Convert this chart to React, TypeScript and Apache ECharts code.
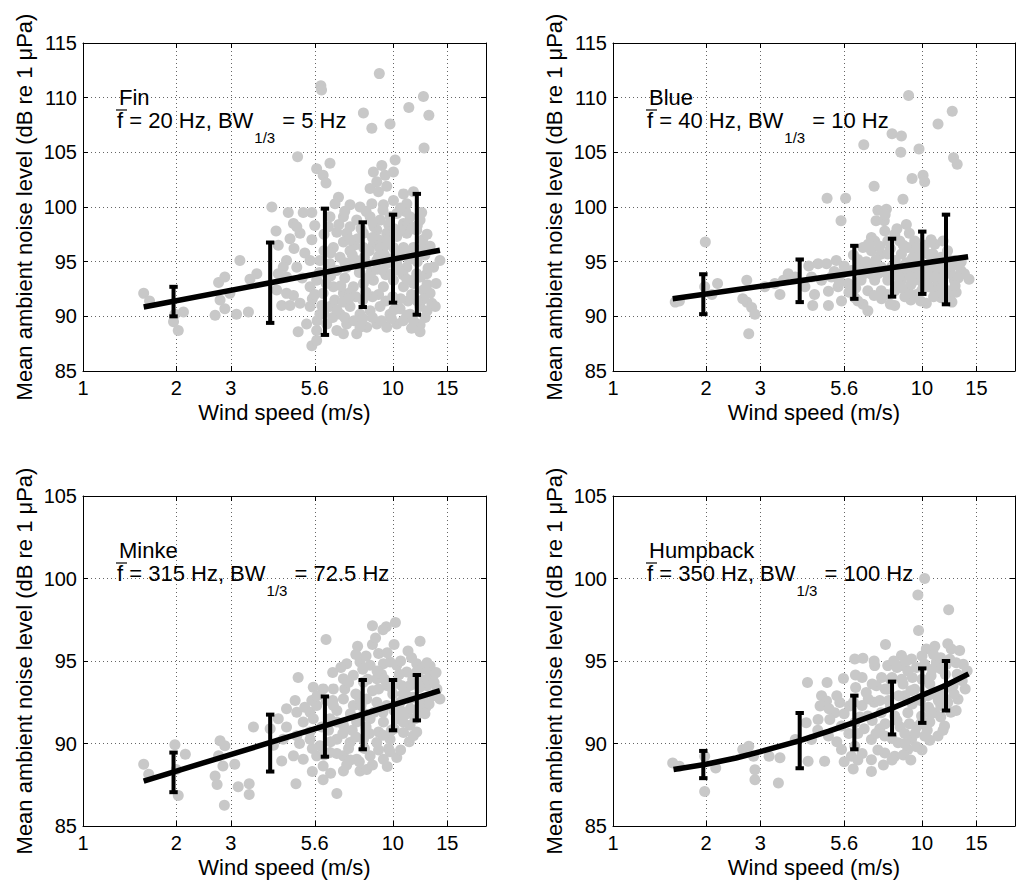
import React, { useEffect, useRef } from "react";
import * as echarts from "echarts";

const FONT = '"Liberation Sans", Arial, Helvetica, sans-serif';

// x tick positions (m/s) on the log axis
const xTicks = [1, 2, 3, 5.6, 10, 15];
// wind speed bins used for the error bars
const binSpeeds = [1.96, 4.02, 6.04, 8.0, 10.02, 11.96];

const panelNames = ["Fin", "Blue", "Minke", "Humpback"];
const freqTexts = ["f = 20 Hz, BW", "f = 40 Hz, BW", "f = 315 Hz, BW", "f = 350 Hz, BW"];
const bwTexts = [" = 5 Hz", " = 10 Hz", " = 72.5 Hz", " = 100 Hz"];
const yMins = [85, 85, 85, 85];
const yMaxs = [115, 115, 105, 105];

const finPoints = [
  [9.05, 112.2], [5.86, 111.1], [5.89, 110.7], [12.56, 110.1], [11.27, 109.1], [13.08, 108.4], [8.04, 108.6], [9.8, 107.6], [8.56, 107.2], [12.62, 105.4],
  [4.93, 104.6], [6.27, 104.0], [5.68, 103.5], [5.96, 102.9], [6.09, 102.2], [10.18, 104.3], [9.22, 103.8], [8.66, 103.2], [10.05, 103.2], [9.45, 102.9],
  [8.88, 102.3], [9.56, 101.9], [8.45, 101.7], [8.99, 101.4], [6.68, 100.9], [6.51, 100.3], [7.28, 100.2], [7.84, 100.0], [8.56, 100.3], [9.33, 100.2],
  [10.05, 100.6], [10.83, 101.2], [11.66, 101.4], [11.1, 100.3], [4.07, 100.0], [4.6, 99.5], [5.14, 99.5], [5.48, 99.5], [4.78, 98.5], [5.02, 97.6],
  [5.48, 97.0], [4.66, 97.1], [4.9, 98.2], [6.27, 99.1], [6.93, 99.1], [7.28, 98.2], [7.65, 98.8], [8.45, 99.1], [9.1, 98.8], [9.8, 99.1],
  [10.3, 99.4], [10.83, 98.5], [11.37, 99.1], [12.25, 98.8], [6.6, 97.7], [7.1, 97.6], [8.04, 97.6], [8.88, 97.9], [9.56, 97.6], [10.3, 97.3],
  [11.1, 97.6], [11.95, 97.9], [6.43, 96.3], [6.93, 96.8], [6.76, 95.4], [7.28, 96.0], [8.04, 96.3], [8.66, 96.6], [9.33, 96.3], [10.05, 96.3],
  [10.83, 96.3], [11.66, 96.3], [12.56, 96.3], [4.27, 96.5], [4.54, 95.1], [4.43, 94.5], [4.27, 93.9], [4.54, 93.6], [4.9, 94.5], [3.21, 95.1],
  [5.41, 95.1], [5.82, 95.1], [6.27, 94.8], [14.2, 95.1], [13.54, 94.5], [12.88, 93.9], [11.95, 93.9], [11.1, 94.5], [10.3, 94.8], [9.56, 94.8],
  [8.88, 95.1], [8.24, 94.8], [7.65, 95.1], [7.1, 94.5], [6.6, 94.2], [2.74, 93.1], [2.87, 93.6], [3.46, 93.4], [3.64, 93.9], [4.22, 92.4],
  [4.54, 92.1], [4.78, 91.9], [4.38, 91.0], [4.66, 91.0], [5.02, 91.2], [5.41, 92.7], [5.68, 93.3], [5.96, 92.1], [6.43, 92.7], [6.93, 92.1],
  [7.46, 92.7], [8.04, 93.0], [8.66, 93.3], [9.33, 92.7], [10.05, 93.3], [10.83, 92.7], [11.66, 93.0], [12.56, 92.4], [13.2, 92.1], [13.37, 91.2],
  [13.72, 90.9], [2.77, 91.5], [2.67, 90.1], [2.87, 90.7], [3.13, 90.2], [3.42, 90.4], [2.98, 92.1], [1.57, 92.1], [1.64, 91.4], [1.96, 89.5],
  [2.11, 90.4], [2.03, 88.7], [1.98, 90.2], [5.41, 90.9], [5.82, 90.2], [6.27, 90.9], [6.76, 90.2], [7.28, 90.9], [7.84, 90.2], [8.45, 90.5],
  [9.1, 90.9], [9.8, 90.2], [10.56, 90.7], [11.37, 90.2], [12.25, 90.9], [12.72, 89.9], [5.27, 89.3], [5.68, 88.7], [6.12, 89.3], [6.6, 88.7],
  [7.1, 89.3], [7.65, 88.4], [8.24, 89.0], [8.88, 89.3], [9.56, 89.0], [10.3, 89.3], [11.1, 90.1], [11.95, 89.3], [4.95, 88.6], [5.48, 87.3],
  [5.68, 87.8], [6.93, 88.4], [7.84, 89.0], [12.25, 89.2], [12.25, 88.6], [11.66, 89.6],
  [8.5, 94.0], [9.5, 93.8], [10.5, 95.5], [7.5, 96.5], [9.0, 97.0], [11.0, 96.0], [8.0, 91.5], [10.0, 91.8], [6.5, 91.5], [7.0, 93.5],
  [12.0, 95.0], [11.5, 92.0], [9.0, 95.5], [7.2, 94.8], [10.8, 93.8], [6.0, 96.0], [8.7, 98.2], [9.8, 97.8], [11.2, 98.5], [12.5, 97.0],
  [5.6, 98.3], [6.0, 97.5], [6.3, 95.8], [5.8, 94.0], [6.1, 93.0], [5.5, 91.6], [5.9, 91.0], [6.4, 89.9], [5.7, 89.6], [6.6, 90.6],
  [6.9, 91.3], [7.3, 92.2], [7.0, 94.9], [7.4, 95.6], [7.7, 97.1], [7.9, 98.0], [8.2, 99.6], [8.6, 98.6], [9.3, 99.7], [9.7, 98.4],
  [10.1, 98.0], [10.6, 97.9], [11.0, 99.6], [11.5, 98.0], [12.0, 98.3], [12.4, 99.5], [12.9, 97.5], [13.2, 96.4], [12.7, 95.6], [11.8, 95.5],
  [11.3, 95.2], [10.2, 96.0], [9.6, 96.9], [9.1, 96.2], [8.4, 96.0], [8.1, 95.4], [7.8, 94.0], [8.3, 93.5], [8.9, 94.3], [9.3, 94.2],
  [9.9, 93.9], [10.5, 94.2], [11.1, 93.4], [11.8, 93.4], [12.3, 93.6], [12.9, 92.9], [12.6, 91.6], [12.0, 91.4], [11.2, 91.4], [10.6, 91.6],
  [10.1, 90.6], [9.5, 91.4], [9.0, 92.0], [8.6, 91.8], [8.2, 92.2], [7.6, 91.8], [7.2, 91.6], [6.8, 92.8], [6.3, 93.7], [5.6, 92.0],
  [6.0, 90.3], [7.0, 89.9], [7.5, 89.6], [8.0, 89.8], [8.6, 89.9], [9.2, 89.6], [9.9, 89.8], [10.8, 89.6], [11.5, 88.9], [12.9, 90.5],
  [13.8, 93.0], [13.0, 94.4], [10.0, 95.3], [9.4, 95.6], [8.6, 97.2], [7.3, 97.0], [6.7, 98.4], [7.0, 99.6], [6.2, 98.2], [10.6, 99.9],
  [4.8, 96.2], [5.2, 95.8], [5.1, 93.5], [4.2, 97.8],
];

const bluePoints = [
  [9.05, 110.2], [12.53, 108.75], [11.27, 107.6], [6.48, 105.7], [8.54, 105.0], [9.78, 105.3], [8.0, 106.7], [8.58, 106.5], [12.65, 104.5], [13.0, 103.9],
  [9.29, 102.6], [10.08, 102.9], [10.2, 102.3], [7.0, 101.9], [8.68, 100.7], [4.93, 100.8], [5.66, 100.8], [5.47, 98.75], [7.2, 99.7], [7.67, 99.8],
  [7.1, 98.75], [7.55, 98.75], [8.9, 98.4], [8.16, 97.5], [7.58, 97.8], [6.86, 97.2], [8.47, 96.9], [9.0, 96.3], [9.47, 96.9], [10.2, 96.5],
  [6.44, 96.3], [6.86, 96.0], [7.38, 95.7], [10.86, 95.7], [11.54, 95.4], [12.72, 95.1], [12.12, 94.5], [13.37, 94.2], [14.2, 93.4], [13.72, 93.9],
  [4.3, 94.6], [4.61, 94.8], [4.91, 94.8], [5.28, 95.1], [4.39, 93.6], [4.73, 93.3], [5.09, 93.6], [5.49, 93.9], [5.91, 94.2], [4.18, 92.7],
  [4.49, 92.0], [4.98, 92.3], [5.35, 92.7], [5.77, 93.0], [4.43, 91.0], [4.98, 91.0], [5.49, 91.4], [6.06, 91.7], [6.68, 90.5], [6.44, 91.1],
  [8.16, 91.0], [10.33, 91.2], [11.54, 91.7], [6.35, 94.5], [6.86, 94.5], [7.38, 94.5], [7.97, 94.5], [8.58, 94.5], [9.25, 94.5], [9.97, 94.5],
  [10.7, 94.5], [11.54, 94.5], [6.35, 93.3], [7.03, 93.3], [7.75, 93.3], [8.58, 93.3], [9.47, 93.3], [10.43, 93.3], [11.54, 93.3], [12.72, 93.3],
  [6.68, 92.35], [7.38, 92.35], [8.16, 92.35], [9.0, 92.35], [9.97, 92.35], [11.0, 92.35], [12.12, 92.35], [7.75, 95.7], [8.58, 95.7], [9.47, 95.7],
  [10.43, 95.7], [7.03, 96.9], [7.75, 96.9], [1.59, 91.3], [1.64, 91.4], [1.99, 96.8], [1.98, 92.7], [2.09, 92.0], [2.18, 93.0], [2.71, 93.3],
  [2.71, 91.3], [2.81, 90.8], [2.88, 90.2], [2.75, 88.4], [2.63, 91.6], [3.1, 92.7], [3.47, 92.0], [3.56, 93.3], [3.34, 93.0], [3.69, 93.9], [3.89, 93.6],
  [6.2, 95.2], [7.2, 93.9], [8.0, 93.9], [8.8, 93.9], [9.6, 93.9], [10.4, 93.9], [11.2, 94.0], [12.4, 93.9], [8.4, 92.9], [9.2, 92.9],
  [10.1, 92.8], [11.2, 92.9], [12.0, 95.4], [13.0, 94.7], [7.4, 91.6], [9.2, 91.5], [12.9, 92.2], [11.0, 96.6], [9.8, 95.1], [8.2, 95.1],
  [5.2, 94.1], [5.6, 94.6], [6.0, 95.6], [6.6, 95.0], [7.1, 95.2], [7.6, 94.0], [8.2, 94.0], [8.9, 94.9], [9.3, 95.3], [10.1, 95.9],
  [10.6, 94.2], [11.0, 94.9], [11.9, 94.0], [12.4, 94.6], [13.1, 93.5], [12.8, 92.8], [12.3, 91.6], [11.6, 92.6], [10.9, 91.8], [10.5, 92.7],
  [9.6, 92.0], [8.8, 91.8], [8.6, 92.6], [7.7, 92.0], [7.0, 91.9], [6.1, 92.6], [5.8, 92.2], [6.9, 93.8], [9.2, 93.6], [10.0, 93.7],
  [11.0, 93.6], [8.4, 93.6], [6.5, 93.9], [5.4, 93.1], [7.9, 96.2], [8.7, 96.5], [9.6, 96.3], [7.3, 96.4], [6.7, 96.6], [12.1, 96.0],
  [13.4, 95.0], [12.5, 91.3], [9.9, 91.4], [7.9, 91.1], [6.2, 91.4], [10.7, 97.0], [9.1, 97.6], [11.7, 96.9], [8.3, 98.0], [7.6, 99.3],
];

const minkePoints = [
  [8.6, 97.13], [9.53, 97.07], [10.2, 97.34], [6.09, 96.3], [12.25, 96.2], [7.7, 95.9], [8.6, 96.0], [9.0, 95.45],
  [7.1, 94.84], [7.84, 94.94], [8.45, 94.74], [9.33, 94.84], [9.8, 94.94], [10.3, 94.74], [11.1, 94.33], [11.95, 94.84], [12.56, 94.53],
  [4.95, 94.0], [5.54, 93.41], [5.96, 93.31], [6.43, 93.31], [6.93, 93.92], [7.46, 94.13], [8.04, 93.72], [8.88, 93.92], [9.56, 93.52], [10.3, 93.72], [11.37, 93.52], [12.25, 93.92], [13.2, 94.13],
  [4.84, 92.6], [4.9, 91.9], [4.54, 92.1], [5.48, 92.6], [5.41, 91.9], [5.68, 92.3],
  [6.43, 92.3], [6.93, 92.7], [7.46, 92.3], [8.24, 92.7], [8.88, 92.5], [9.56, 92.3], [10.56, 92.5], [11.37, 92.7], [12.56, 92.7], [13.54, 92.9], [14.2, 92.7],
  [3.55, 91.0], [4.27, 91.5], [4.54, 91.0],
  [5.14, 91.3], [5.54, 91.5], [6.27, 91.5], [6.93, 91.1], [7.65, 91.3], [8.45, 91.5], [9.33, 91.3], [10.3, 91.5], [11.37, 91.1], [11.95, 90.7],
  [4.43, 90.26], [4.9, 90.47], [5.41, 90.26], [5.82, 89.86], [6.6, 90.26], [7.28, 90.06], [8.04, 90.26], [8.88, 90.06], [9.8, 90.26], [10.83, 90.67], [11.66, 90.47],
  [4.38, 88.94], [4.78, 89.25], [5.14, 89.04], [5.68, 89.25], [6.27, 89.45], [6.93, 89.25], [7.65, 89.04], [8.45, 89.25], [9.33, 89.04], [10.3, 89.15],
  [5.96, 88.64], [6.93, 88.33], [7.84, 88.33], [8.24, 88.43], [5.96, 87.8], [6.6, 86.97], [4.87, 87.56],
  [2.77, 90.16], [2.87, 89.86], [2.74, 89.25], [2.67, 88.03], [2.71, 87.52], [2.83, 88.64], [3.09, 88.74],
  [3.17, 87.38], [3.44, 87.56], [3.44, 86.91], [2.86, 86.26],
  [1.98, 89.92], [2.14, 89.35], [2.0, 88.43], [2.03, 86.85], [1.57, 88.74], [1.63, 88.13],
  [4.02, 90.9], [4.12, 89.9], [12.88, 93.5], [13.88, 93.3], [13.2, 94.7], [13.5, 94.1],
  [7.0, 93.3], [7.8, 92.8], [8.6, 93.2], [9.2, 94.2], [10.0, 93.0], [10.8, 93.0], [11.6, 93.9], [12.1, 91.8], [7.4, 90.8], [8.2, 91.0],
  [9.0, 90.7], [9.9, 90.8], [10.6, 92.0], [6.2, 90.8], [6.6, 92.0], [7.2, 89.7], [9.7, 89.7], [11.1, 91.8], [12.8, 92.2], [5.0, 90.0],
  [5.2, 92.2], [5.7, 92.9], [6.1, 92.6], [6.4, 94.3], [6.8, 94.6], [7.2, 93.7], [7.6, 93.0], [8.0, 94.5], [8.3, 93.9], [8.9, 94.4],
  [9.4, 93.9], [9.9, 93.4], [10.5, 94.2], [11.0, 93.0], [11.6, 92.8], [12.2, 93.4], [12.9, 93.9], [13.6, 93.7], [13.1, 92.4], [12.2, 92.2],
  [11.4, 92.1], [10.8, 91.7], [10.1, 92.0], [9.3, 91.9], [8.7, 91.9], [8.1, 91.8], [7.3, 91.8], [6.6, 91.3], [5.9, 91.0], [5.4, 90.7],
  [6.3, 90.1], [6.9, 90.6], [7.6, 90.4], [8.4, 90.6], [9.3, 90.5], [10.1, 90.9], [10.8, 91.3], [11.8, 91.5], [12.7, 91.8], [11.3, 90.1],
  [10.6, 89.6], [9.8, 89.5], [9.0, 89.6], [8.1, 89.7], [7.3, 89.0], [6.6, 89.4], [6.0, 89.3], [5.5, 89.7], [8.6, 88.7], [7.8, 88.9],
  [9.6, 88.6], [7.1, 88.7], [6.3, 88.2], [5.5, 88.3], [10.7, 93.5], [9.0, 93.3], [7.9, 92.3], [6.4, 92.6], [12.0, 94.4], [13.8, 94.3],
  [7.6, 95.4], [8.2, 95.3], [9.6, 95.5], [10.6, 95.0], [11.5, 95.2], [12.9, 94.9], [8.8, 96.4], [10.1, 96.0], [11.2, 95.6], [9.3, 96.9],
];

const humpbackPoints = [
  [10.2, 100.0], [9.7, 99.0], [12.2, 98.1], [9.75, 96.85], [7.62, 96.0], [10.33, 95.73], [12.12, 96.04], [12.44, 95.73], [13.24, 95.63],
  [6.06, 95.12], [6.44, 95.16], [8.58, 95.33], [9.25, 95.12], [8.58, 94.72], [7.75, 94.72], [7.03, 94.72],
  [11.13, 94.92], [11.54, 94.51], [10.7, 94.11], [14.0, 94.41],
  [6.09, 94.15], [5.57, 93.94], [4.93, 93.7], [4.26, 93.7],
  [4.73, 92.89], [4.91, 92.58], [4.68, 92.28], [5.42, 92.48], [5.83, 92.28], [5.22, 91.87], [6.6, 93.09], [7.12, 93.5], [7.75, 93.29], [8.68, 93.6],
  [9.47, 93.29], [8.79, 92.89], [10.43, 92.89], [11.4, 93.09], [12.12, 92.48], [13.08, 92.68],
  [4.22, 91.26], [4.61, 91.46], [5.03, 91.46], [5.49, 91.06], [6.06, 91.26], [6.68, 91.67], [7.38, 91.87], [8.16, 91.67], [9.0, 91.87], [9.97, 91.67], [11.0, 91.87], [11.83, 91.06],
  [4.39, 90.24], [4.98, 90.45], [5.49, 89.63], [6.06, 89.84], [6.86, 90.24], [7.58, 90.45], [8.37, 90.04], [9.25, 90.24], [10.2, 90.45], [11.27, 90.45],
  [5.91, 89.23], [6.86, 89.02], [7.58, 89.43], [8.16, 89.23], [9.0, 89.63], [4.28, 88.92], [4.84, 88.92], [5.99, 88.46], [6.86, 88.31],
  [2.75, 89.84], [2.63, 89.63], [2.85, 89.23], [2.88, 88.41], [2.88, 87.8], [3.2, 89.23], [3.47, 89.13], [3.43, 87.6],
  [1.56, 88.82], [1.64, 88.62], [1.98, 89.23], [2.15, 88.52], [1.98, 87.09], [3.89, 90.24],
  [7.0, 92.5], [7.8, 92.6], [8.5, 91.0], [9.3, 92.4], [10.0, 93.9], [10.8, 93.0], [11.5, 92.3], [12.6, 93.5], [6.4, 92.3], [9.6, 91.0],
  [10.6, 91.3], [8.0, 94.0], [9.0, 94.4], [11.9, 94.2], [12.9, 94.9], [7.3, 90.9], [8.8, 90.6], [6.2, 90.6], [10.9, 95.4], [13.5, 93.8],
  [6.4, 94.0], [6.9, 93.6], [7.4, 94.0], [7.9, 93.9], [8.3, 94.6], [8.9, 95.0], [9.6, 94.6], [10.2, 94.8], [10.8, 94.5], [11.5, 95.2],
  [12.3, 95.1], [13.0, 94.2], [13.6, 94.8], [12.7, 93.0], [12.0, 93.4], [11.3, 92.6], [10.5, 92.2], [9.9, 92.6], [9.2, 93.2], [8.4, 92.9],
  [7.9, 92.2], [7.3, 92.6], [6.7, 92.7], [6.0, 92.5], [5.6, 91.8], [6.3, 91.6], [6.9, 91.4], [7.6, 91.2], [8.3, 91.4], [9.1, 91.2],
  [9.9, 91.2], [10.7, 91.8], [11.5, 91.6], [12.4, 91.9], [11.9, 92.7], [10.4, 90.8], [9.5, 90.6], [8.8, 90.0], [8.0, 90.3], [7.1, 90.6],
  [6.5, 90.9], [5.8, 90.6], [5.3, 90.1], [6.4, 89.4], [7.2, 89.6], [8.0, 89.0], [8.7, 89.3], [9.6, 89.8], [10.6, 90.2], [7.5, 88.7],
  [6.2, 89.0], [5.6, 88.9], [9.2, 89.0], [10.0, 89.6], [11.7, 90.8], [12.9, 92.0], [13.8, 93.3], [10.0, 95.3], [9.3, 94.0], [8.1, 95.0],
  [7.0, 95.0], [11.0, 95.9], [12.0, 94.8], [10.6, 93.6], [8.6, 93.9], [7.6, 93.3], [6.1, 93.4], [5.3, 92.9], [5.0, 92.1], [4.6, 90.8],
];

// error bar ends per bin
const finLow = [90.0, 89.4, 88.3, 90.85, 91.25, 90.15];
const finHigh = [92.7, 96.75, 99.85, 98.6, 99.3, 101.2];
const blueLow = [90.2, 91.3, 91.6, 91.8, 92.05, 91.1];
const blueHigh = [93.85, 95.2, 96.45, 97.1, 97.75, 99.3];
const minkeLow = [87.05, 88.3, 89.2, 89.65, 90.8, 91.4];
const minkeHigh = [89.45, 91.75, 92.85, 93.85, 93.85, 94.15];
const humpLow = [87.9, 88.5, 89.65, 90.55, 91.25, 92.0];
const humpHigh = [89.55, 91.85, 92.9, 93.75, 94.55, 95.0];

// fitted curves
const finFitX = [1.57, 14.2];
const finFitY = [90.85, 96.05];
const blueFitX = [1.56, 14.1];
const blueFitY = [91.6, 95.45];
const minkeFitX = [1.57, 14.2];
const minkeFitY = [87.72, 93.21];
const humpFitX = [1.57, 2, 2.5, 3, 4, 5, 6, 7, 8, 9, 10, 12, 14.15];
const humpFitY = [88.42, 88.74, 89.12, 89.51, 90.16, 90.75, 91.27, 91.72, 92.14, 92.54, 92.92, 93.55, 94.22];

const allPoints = [finPoints, bluePoints, minkePoints, humpbackPoints];
const allLow = [finLow, blueLow, minkeLow, humpLow];
const allHigh = [finHigh, blueHigh, minkeHigh, humpHigh];
const allFitX = [finFitX, blueFitX, minkeFitX, humpFitX];
const allFitY = [finFitY, blueFitY, minkeFitY, humpFitY];

// grid boxes (pixels)
const gridLeft = [83, 613, 83, 613];
const gridTop = [43, 43, 496, 496];
const gridWidth = [403, 402, 403, 402];
const gridHeight = [328, 328, 330, 330];

const App: React.FC = () => {
  const chartRef = useRef<HTMLDivElement>(null);

  useEffect(() => {
    const dom = chartRef.current;
    if (!dom) return;
    const chart = echarts.init(dom, undefined, { renderer: "svg" });

    const ctx = document.createElement("canvas").getContext("2d")!;
    const measure = (text: string, size: number) => {
      ctx.font = `${size}px ${FONT}`;
      return ctx.measureText(text).width;
    };

    const grids: any[] = [];
    const xAxes: any[] = [];
    const yAxes: any[] = [];
    const series: any[] = [];
    const graphics: any[] = [];

    for (let i = 0; i < 4; i++) {
      grids.push({
        left: gridLeft[i],
        top: gridTop[i],
        width: gridWidth[i],
        height: gridHeight[i],
        containLabel: false,
      });

      const axisLine = { show: true, onZero: false, lineStyle: { color: "#000", width: 1 } };
      // bottom log axis
      xAxes.push({
        type: "log",
        logBase: 10,
        gridIndex: i,
        min: 1,
        max: 20,
        position: "bottom",
        axisLine,
        axisTick: { show: true, inside: true, length: 5, customValues: xTicks, lineStyle: { color: "#000" } },
        axisLabel: {
          customValues: xTicks,
          formatter: (v: number) => String(Math.round(v * 10) / 10),
          fontSize: 20,
          fontFamily: FONT,
          color: "#000",
          margin: 7,
        },
        splitLine: { show: true, lineStyle: { color: "#666", type: [1, 3], width: 1 } },
        minorTick: { show: false },
        minorSplitLine: { show: false },
        name: "Wind speed (m/s)",
        nameLocation: "middle",
        nameGap: 30,
        nameTextStyle: { fontSize: 22, fontFamily: FONT, color: "#000" },
      });
      // top box edge
      xAxes.push({
        type: "log",
        logBase: 10,
        gridIndex: i,
        min: 1,
        max: 20,
        position: "top",
        axisLine,
        axisTick: { show: true, inside: true, length: 5, customValues: xTicks, lineStyle: { color: "#000" } },
        axisLabel: { show: false },
        splitLine: { show: false },
      });
      yAxes.push({
        type: "value",
        gridIndex: i,
        min: yMins[i],
        max: yMaxs[i],
        interval: 5,
        position: "left",
        axisLine,
        axisTick: { show: true, inside: true, length: 5, lineStyle: { color: "#000" } },
        axisLabel: { fontSize: 20, fontFamily: FONT, color: "#000", margin: 6 },
        splitLine: { show: true, lineStyle: { color: "#666", type: [1, 3], width: 1 } },
        name: "Mean ambient noise level (dB re 1 μPa)",
        nameLocation: "middle",
        nameGap: 48,
        nameTextStyle: { fontSize: 22, fontFamily: FONT, color: "#000" },
      });
      yAxes.push({
        type: "value",
        gridIndex: i,
        min: yMins[i],
        max: yMaxs[i],
        interval: 5,
        position: "right",
        axisLine,
        axisTick: { show: true, inside: true, length: 5, lineStyle: { color: "#000" } },
        axisLabel: { show: false },
        splitLine: { show: false },
      });

      const xi = i * 2;
      const yi = i * 2;

      series.push({
        type: "scatter",
        xAxisIndex: xi,
        yAxisIndex: yi,
        data: allPoints[i],
        symbol: "circle",
        symbolSize: 11,
        itemStyle: { color: "#c8c8c8", opacity: 1 },
        z: 2,
        silent: true,
      });

      series.push({
        type: "line",
        xAxisIndex: xi,
        yAxisIndex: yi,
        data: allFitX[i].map((x, k) => [x, allFitY[i][k]]),
        showSymbol: false,
        smooth: false,
        lineStyle: { color: "#000", width: 5.5, cap: "butt", join: "round" },
        z: 3,
        silent: true,
      });

      series.push({
        type: "custom",
        xAxisIndex: xi,
        yAxisIndex: yi,
        data: binSpeeds.map((x, k) => [x, allLow[i][k], allHigh[i][k]]),
        encode: { x: 0, y: [1, 2] },
        z: 4,
        silent: true,
        renderItem: (_params: any, api: any) => {
          const x = api.value(0);
          const top = api.coord([x, api.value(2)]);
          const bot = api.coord([x, api.value(1)]);
          const half = 4.2;
          const st = { stroke: "#000", lineWidth: 4 };
          return {
            type: "group",
            children: [
              { type: "line", shape: { x1: top[0], y1: top[1], x2: bot[0], y2: bot[1] }, style: st },
              { type: "line", shape: { x1: top[0] - half, y1: top[1], x2: top[0] + half, y2: top[1] }, style: st },
              { type: "line", shape: { x1: bot[0] - half, y1: bot[1], x2: bot[0] + half, y2: bot[1] }, style: st },
            ],
          };
        },
      });

      // annotation text
      const L = gridLeft[i];
      const T = gridTop[i];
      const mainSize = 22;
      const subSize = 15;
      const x2 = L + 34;
      const wA = measure(freqTexts[i], mainSize);
      const wSub = measure("1/3", subSize);
      graphics.push({
        type: "text",
        x: L + 36,
        y: T + 62 - 7.6,
        z: 10,
        style: { text: panelNames[i], fontSize: mainSize, fontFamily: FONT, fill: "#000", verticalAlign: "middle", align: "left" },
      });
      graphics.push({
        type: "text",
        x: x2,
        y: T + 85.5 - 7.6,
        z: 10,
        style: { text: freqTexts[i], fontSize: mainSize, fontFamily: FONT, fill: "#000", verticalAlign: "middle", align: "left" },
      });
      graphics.push({
        type: "text",
        x: x2 + wA + 1,
        y: T + 99.5 - 5.2,
        z: 10,
        style: { text: "1/3", fontSize: subSize, fontFamily: FONT, fill: "#000", verticalAlign: "middle", align: "left" },
      });
      graphics.push({
        type: "text",
        x: x2 + wA + wSub + 2,
        y: T + 85.5 - 7.6,
        z: 10,
        style: { text: bwTexts[i], fontSize: mainSize, fontFamily: FONT, fill: "#000", verticalAlign: "middle", align: "left" },
      });
      graphics.push({
        type: "line",
        z: 10,
        shape: { x1: L + 33, y1: T + 67, x2: L + 44, y2: T + 67 },
        style: { stroke: "#000", lineWidth: 1.2 },
      });
    }

    chart.setOption({
      animation: false,
      backgroundColor: "#fff",
      textStyle: { fontFamily: FONT },
      grid: grids,
      xAxis: xAxes,
      yAxis: yAxes,
      series,
      graphic: graphics,
    });

    return () => {
      chart.dispose();
    };
  }, []);

  return (
    <div
      ref={chartRef}
      style={{ position: "fixed", left: 0, top: 0, width: "1024px", height: "886px" }}
    />
  );
};

export default App;
